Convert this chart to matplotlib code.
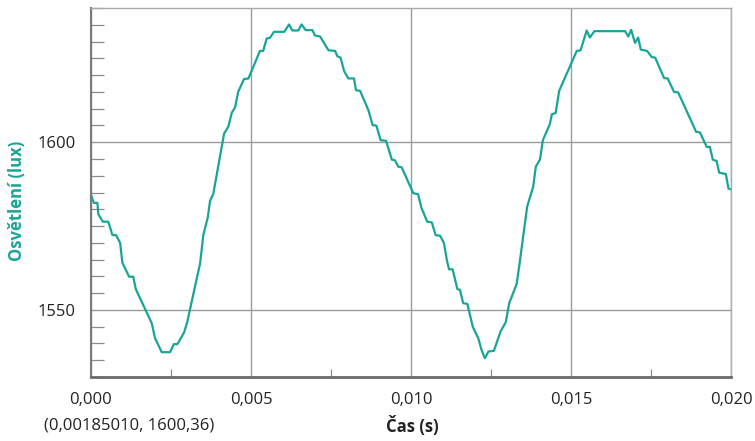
import numpy as np
import matplotlib
matplotlib.use('Agg')
from matplotlib import pyplot as plt
from matplotlib.ticker import MultipleLocator, FuncFormatter

# time (s) and illuminance (lux)
cas = [0.00000, 0.00009, 0.00020, 0.00023, 0.00037, 0.00054, 0.00067, 0.00078, 0.00091, 0.00098,
       0.00119, 0.00132, 0.00140, 0.00190, 0.00200, 0.00221, 0.00247, 0.00259, 0.00270, 0.00291,
       0.00301, 0.00341, 0.00351, 0.00365, 0.00372, 0.00382, 0.00416, 0.00429, 0.00440, 0.00450,
       0.00460, 0.00478, 0.00492, 0.00528, 0.00538, 0.00549, 0.00559, 0.00572, 0.00604, 0.00619,
       0.00629, 0.00648, 0.00658, 0.00671, 0.00692, 0.00700, 0.00716, 0.00742, 0.00763, 0.00770,
       0.00780, 0.00791, 0.00804, 0.00822, 0.00828, 0.00841, 0.00867, 0.00880, 0.00892, 0.00905,
       0.00922, 0.00940, 0.00950, 0.00960, 0.00971, 0.01007, 0.01022, 0.01033, 0.01051, 0.01065,
       0.01077, 0.01091, 0.01103, 0.01113, 0.01119, 0.01130, 0.01145, 0.01153, 0.01163, 0.01176,
       0.01193, 0.01210, 0.01221, 0.01231, 0.01242, 0.01259, 0.01280, 0.01296, 0.01307, 0.01330,
       0.01338, 0.01363, 0.01382, 0.01390, 0.01403, 0.01412, 0.01434, 0.01440, 0.01452, 0.01463,
       0.01518, 0.01530, 0.01549, 0.01559, 0.01573, 0.01669, 0.01679, 0.01688, 0.01700, 0.01710,
       0.01718, 0.01738, 0.01752, 0.01763, 0.01791, 0.01802, 0.01822, 0.01835, 0.01891, 0.01903,
       0.01924, 0.01934, 0.01943, 0.01955, 0.01963, 0.01984, 0.01992, 0.02000]
osvetleni = [1584.2, 1581.9, 1581.9, 1578.5, 1576.3, 1576.3, 1572.3, 1572.3, 1570.0, 1564.1,
             1559.9, 1559.9, 1556.2, 1546.0, 1541.6, 1537.4, 1537.4, 1539.8, 1539.8, 1543.3,
             1546.5, 1563.9, 1572.3, 1577.6, 1582.5, 1584.5, 1602.6, 1604.6, 1608.8, 1610.3,
             1615.0, 1618.8, 1619.0, 1627.2, 1627.2, 1630.9, 1631.1, 1632.9, 1632.9, 1635.1,
             1633.3, 1633.3, 1635.1, 1633.4, 1633.4, 1631.8, 1631.5, 1627.4, 1627.2, 1625.6,
             1625.2, 1621.2, 1619.0, 1619.0, 1615.5, 1615.3, 1609.5, 1605.1, 1604.9, 1600.6,
             1600.4, 1594.8, 1594.6, 1592.7, 1592.5, 1584.8, 1584.5, 1580.3, 1576.3, 1576.1,
             1572.3, 1572.1, 1569.9, 1564.4, 1562.1, 1562.1, 1556.2, 1556.0, 1552.0, 1551.8,
             1545.0, 1541.6, 1537.9, 1535.6, 1537.6, 1537.8, 1543.6, 1546.3, 1552.0, 1557.7,
             1562.9, 1580.8, 1586.8, 1592.7, 1594.8, 1600.6, 1605.4, 1608.3, 1608.7, 1615.3,
             1627.2, 1627.4, 1633.3, 1631.2, 1633.1, 1633.1, 1631.5, 1633.5, 1629.6, 1631.2,
             1627.6, 1627.2, 1625.4, 1625.2, 1619.1, 1619.0, 1615.0, 1614.8, 1603.1, 1602.9,
             1598.6, 1598.6, 1594.8, 1594.4, 1590.9, 1590.5, 1586.2, 1585.9]

teal = '#17a596'
plt.rcParams['font.family'] = ['Open Sans', 'DejaVu Sans']

fig = plt.figure(figsize=(7.55, 4.41), dpi=100)
ax = fig.add_axes([91/755, 1-377/441, 640/755, 369/441])

ax.plot(cas, osvetleni, color=teal, lw=1.6)
ax.set_xlim(0, 0.020)
ax.set_ylim(1530, 1640)

ax.xaxis.set_major_locator(MultipleLocator(0.005))
ax.xaxis.set_minor_locator(MultipleLocator(0.0025))
ax.yaxis.set_major_locator(MultipleLocator(50))
ax.yaxis.set_minor_locator(MultipleLocator(5))
ax.xaxis.set_major_formatter(FuncFormatter(lambda v, p: ('%.3f' % v).replace('.', ',')))
ax.yaxis.set_major_formatter(FuncFormatter(lambda v, p: '%d' % v))

ax.grid(True, which='major', color='#9a9a9a', lw=1)
ax.tick_params(which='major', length=0, labelsize=12, colors='#222222')
ax.tick_params(axis='x', which='major', pad=11)
ax.tick_params(axis='y', which='major', pad=11)
ax.tick_params(axis='y', which='minor', direction='in', length=9.5, width=0.9, color='#8a8a8a')
ax.tick_params(axis='x', which='minor', direction='in', length=5.5, width=0.9, color='#8a8a8a')

for s in ['top', 'right']:
    ax.spines[s].set_color('#aaaaaa')
    ax.spines[s].set_linewidth(1)
ax.spines['left'].set_color('#7a7a7a')
ax.spines['left'].set_linewidth(1.5)
ax.spines['bottom'].set_color('#6a6a6a')
ax.spines['bottom'].set_linewidth(2)

fig.text(17/755, 1-201/441, 'Osvětlení (lux)', rotation=90, color=teal, fontsize=12,
         fontweight='bold', ha='center', va='center')
fig.text(412/755, 1-426/441, 'Čas (s)', fontsize=12, fontweight='bold', color='#222222',
         ha='center', va='center')
fig.text(44/755, 1-426/441, '(0,00185010, 1600,36)', fontsize=12, color='#222222',
         ha='left', va='center')

fig.savefig('out.png', dpi=100)
